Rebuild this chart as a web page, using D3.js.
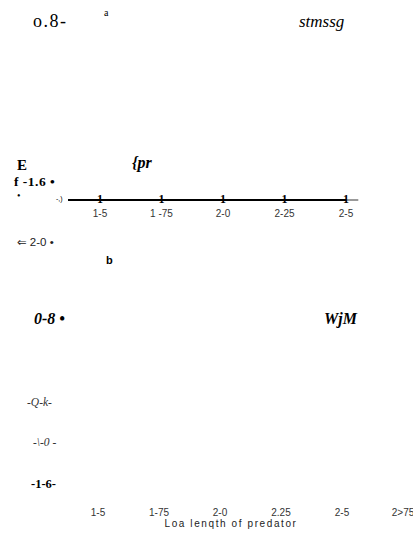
<!DOCTYPE html>
<html>
<head>
<meta charset="utf-8">
<script src="https://cdn.jsdelivr.net/npm/d3@7"></script>
<style>
  body { margin: 0; background: #fff; }
  svg { display: block; }
</style>
</head>
<body>
<svg id="chart" width="413" height="533"></svg>
<script>
// tick values along the predator-length axis, and the labels as printed
let topTicks = [1.5, 1.75, 2.0, 2.25, 2.5]
let topLabels = ["1-5", "1 -75", "2-0", "2-25", "2-5"]
let bottomTicks = [1.5, 1.75, 2.0, 2.25, 2.5, 2.75]
let bottomLabels = ["1-5", "1-75", "2-0", "2.25", "2-5", "2>75"]

// left-hand labels as printed on the scan
let panelA = ["o.8-", "f -1.6 \u2022", "\u21d0 2-0 \u2022"]
let panelB = ["0-8 \u2022", "-Q-k-", "-\\-0 -", "-1-6-"]
let xTitle = "Loa lenqth of predator"

const SERIF = "'Liberation Serif', 'DejaVu Serif', serif"
const SANS = "'Liberation Sans', 'DejaVu Sans', sans-serif"

let svg = d3.select("#chart")

let xTop = d3.scaleLinear().domain([1.5, 2.5]).range([100, 346])
let xBot = d3.scaleLinear().domain([1.5, 2.75]).range([98, 403])

// top axis (panel a)
let axisY = 200
svg.append("line")
  .attr("x1", xTop(1.37)).attr("x2", xTop(2.5))
  .attr("y1", axisY).attr("y2", axisY)
  .attr("stroke", "#000").attr("stroke-width", 2.2)
svg.append("line")
  .attr("x1", xTop(2.5)).attr("x2", xTop(2.55))
  .attr("y1", axisY).attr("y2", axisY)
  .attr("stroke", "#000").attr("stroke-width", 0.8)

// tick marks printed as "1"
svg.selectAll("text.tk")
  .data(topTicks).enter()
  .append("text")
  .attr("class", "tk")
  .attr("font-family", SERIF)
  .attr("x", d => xTop(d))
  .attr("y", axisY + 3)
  .attr("text-anchor", "middle")
  .attr("font-size", 12)
  .attr("font-weight", "bold")
  .text("1")

svg.selectAll("text.tl")
  .data(topTicks).enter()
  .append("text")
  .attr("class", "tl")
  .attr("font-family", SANS)
  .attr("x", d => xTop(d))
  .attr("y", 217)
  .attr("text-anchor", "middle")
  .attr("font-size", 10)
  .attr("fill", "#333")
  .text((d, i) => topLabels[i])

svg.selectAll("text.bl")
  .data(bottomTicks).enter()
  .append("text")
  .attr("class", "bl")
  .attr("font-family", SANS)
  .attr("x", d => xBot(d))
  .attr("y", 516)
  .attr("text-anchor", "middle")
  .attr("font-size", 10)
  .attr("fill", "#333")
  .text((d, i) => bottomLabels[i])

svg.append("text")
  .attr("font-family", SANS)
  .attr("x", 231).attr("y", 527)
  .attr("text-anchor", "middle")
  .attr("font-size", 10).attr("letter-spacing", 1.6).attr("fill", "#222")
  .text(xTitle)

// free text on the scan
function txt(x, y, s, size, opts) {
  let t = svg.append("text")
    .attr("font-family", opts.sans ? SANS : SERIF)
    .attr("x", x).attr("y", y)
    .attr("font-size", size)
    .attr("fill", opts.fill || "#000")
    .text(s)
  if (opts.bold) t.attr("font-weight", "bold")
  if (opts.italic) t.attr("font-style", "italic")
  if (opts.ls) t.attr("letter-spacing", opts.ls)
  return t
}

txt(33, 27, panelA[0], 18, {ls: 1.5})
txt(104, 16, "a", 10, {})
txt(299, 27, "stmssg", 17, {italic: true})
txt(17, 170, "E", 15, {bold: true})
txt(132, 168, "{pr", 16, {bold: true, italic: true})
txt(14, 186, panelA[1], 13.5, {bold: true, ls: 0.5})
txt(17, 199, "\u2022", 10, {})
txt(56, 201, "-,)", 7, {sans: true})
txt(17, 246, panelA[2], 11.5, {sans: true, fill: "#222"})
txt(106, 264, "b", 11, {sans: true, bold: true})
txt(34, 324, panelB[0], 16, {bold: true, italic: true})
txt(324, 324, "WjM", 16, {bold: true, italic: true})
txt(27, 406, panelB[1], 11.5, {italic: true, fill: "#333"})
txt(33, 446, panelB[2], 11.5, {italic: true, fill: "#333"})
txt(31, 488, panelB[3], 12.5, {bold: true})
</script>
</body>
</html>
